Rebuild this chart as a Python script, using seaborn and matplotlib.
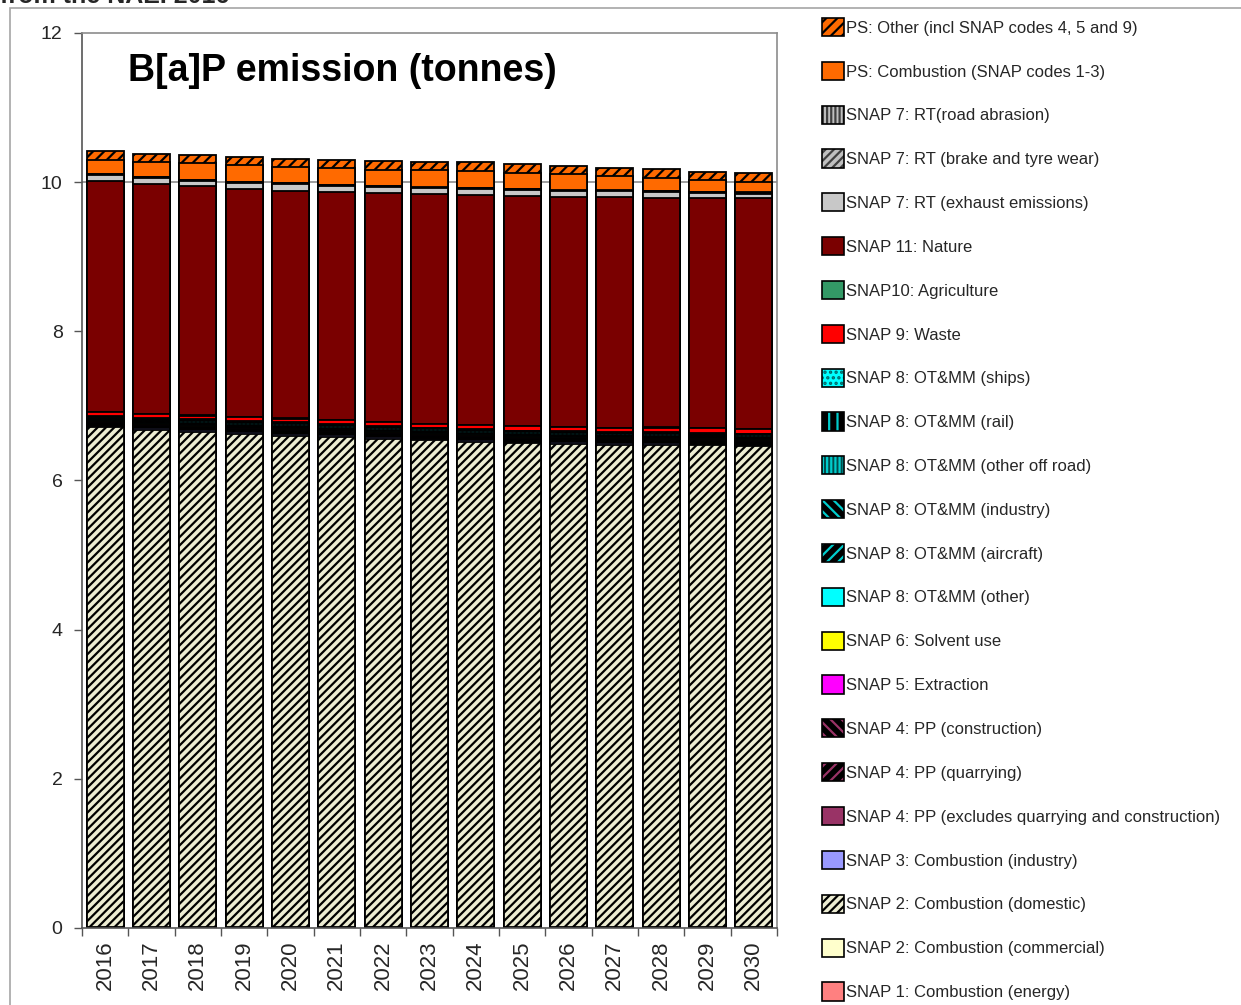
import numpy as np
import pandas as pd
import matplotlib
matplotlib.use("Agg")
import matplotlib.pyplot as plt
from matplotlib.patches import Patch, Rectangle
import seaborn as sns

# B[a]P emission projections (tonnes)
years = ["2016", "2017", "2018", "2019", "2020", "2021", "2022", "2023",
         "2024", "2025", "2026", "2027", "2028", "2029", "2030"]

energy      = [0.005, 0.005, 0.005, 0.005, 0.005, 0.005, 0.005, 0.005, 0.005, 0.005, 0.005, 0.005, 0.005, 0.005, 0.005]
commercial  = [0.01, 0.01, 0.01, 0.01, 0.01, 0.01, 0.01, 0.01, 0.01, 0.01, 0.01, 0.01, 0.01, 0.01, 0.01]
domestic    = [6.705, 6.665, 6.635, 6.605, 6.585, 6.565, 6.545, 6.525, 6.505, 6.485, 6.475, 6.465, 6.455, 6.455, 6.445]
industry    = [0.0125, 0.0175, 0.0225, 0.0275, 0.0275, 0.0275, 0.0225, 0.0225, 0.0225, 0.0225, 0.0225, 0.0225, 0.0275, 0.0225, 0.0225]
pp_other    = [0.0125, 0.0125, 0.0125, 0.0125, 0.0125, 0.0125, 0.0125, 0.0125, 0.0125, 0.0125, 0.0125, 0.0125, 0.0125, 0.0125, 0.0125]
pp_quarry   = [0.0125, 0.0125, 0.0125, 0.0125, 0.0125, 0.0125, 0.0125, 0.0125, 0.0125, 0.0125, 0.0125, 0.0125, 0.0125, 0.0125, 0.0125]
pp_constr   = [0.0125, 0.0125, 0.0125, 0.0125, 0.0125, 0.0125, 0.0125, 0.0125, 0.0125, 0.0125, 0.0125, 0.0125, 0.0125, 0.0125, 0.0125]
extraction  = [0.0125, 0.0125, 0.0125, 0.0125, 0.0125, 0.0125, 0.0125, 0.0125, 0.0125, 0.0125, 0.0125, 0.0125, 0.0125, 0.0125, 0.0125]
solvent     = [0.0125, 0.0125, 0.0125, 0.0125, 0.0125, 0.0125, 0.0125, 0.0125, 0.0125, 0.0125, 0.0125, 0.0125, 0.0125, 0.0125, 0.0125]
ot_other    = [0.0125, 0.0125, 0.0125, 0.0125, 0.0125, 0.0125, 0.0125, 0.0125, 0.0125, 0.0125, 0.0125, 0.0125, 0.0125, 0.0125, 0.0125]
ot_aircraft = [0.0125, 0.0125, 0.0125, 0.0125, 0.0125, 0.0125, 0.0125, 0.0125, 0.0125, 0.0125, 0.0125, 0.0125, 0.0125, 0.0125, 0.0125]
ot_industry = [0.0125, 0.0125, 0.0125, 0.0125, 0.0125, 0.0125, 0.0125, 0.0125, 0.0125, 0.0125, 0.0125, 0.0125, 0.0125, 0.0125, 0.0125]
ot_offroad  = [0.0125, 0.0175, 0.0225, 0.0275, 0.0275, 0.0275, 0.0225, 0.0225, 0.0225, 0.0225, 0.0225, 0.0225, 0.0275, 0.0225, 0.0225]
ot_rail     = [0.0125, 0.0125, 0.0125, 0.0125, 0.0125, 0.0125, 0.0125, 0.0125, 0.0125, 0.0125, 0.0125, 0.0125, 0.0125, 0.0125, 0.0125]
ot_ships    = [0.0125, 0.0125, 0.0125, 0.0125, 0.0125, 0.0125, 0.0125, 0.0125, 0.0125, 0.0125, 0.0125, 0.0125, 0.0125, 0.0125, 0.0125]
waste       = [0.05, 0.05, 0.05, 0.05, 0.05, 0.05, 0.05, 0.05, 0.05, 0.055, 0.055, 0.055, 0.06, 0.06, 0.06]
agriculture = [0.002, 0.002, 0.002, 0.002, 0.002, 0.002, 0.002, 0.002, 0.002, 0.002, 0.002, 0.002, 0.002, 0.002, 0.002]
nature      = [3.09, 3.09, 3.08, 3.06, 3.05, 3.06, 3.07, 3.08, 3.09, 3.085, 3.085, 3.095, 3.08, 3.09, 3.09]
rt_exhaust  = [0.085, 0.075, 0.065, 0.075, 0.095, 0.075, 0.085, 0.075, 0.075, 0.085, 0.075, 0.075, 0.075, 0.065, 0.065]
rt_brake    = [0.01, 0.01, 0.01, 0.01, 0.01, 0.01, 0.01, 0.01, 0.01, 0.01, 0.01, 0.01, 0.01, 0.01, 0.01]
rt_road     = [0.005, 0.005, 0.005, 0.005, 0.005, 0.005, 0.005, 0.005, 0.005, 0.005, 0.005, 0.005, 0.005, 0.005, 0.005]
ps_comb     = [0.18, 0.20, 0.22, 0.23, 0.21, 0.23, 0.21, 0.23, 0.23, 0.21, 0.22, 0.19, 0.17, 0.16, 0.14]
ps_other    = [0.13, 0.11, 0.11, 0.11, 0.11, 0.10, 0.12, 0.11, 0.12, 0.12, 0.10, 0.11, 0.12, 0.10, 0.12]

# stacking order, bottom -> top
series = [
    ("SNAP 1: Combustion (energy)", energy),
    ("SNAP 2: Combustion (commercial)", commercial),
    ("SNAP 2: Combustion (domestic)", domestic),
    ("SNAP 3: Combustion (industry)", industry),
    ("SNAP 4: PP (excludes quarrying and construction)", pp_other),
    ("SNAP 4: PP (quarrying)", pp_quarry),
    ("SNAP 4: PP (construction)", pp_constr),
    ("SNAP 5: Extraction", extraction),
    ("SNAP 6: Solvent use", solvent),
    ("SNAP 8: OT&MM (other)", ot_other),
    ("SNAP 8: OT&MM (aircraft)", ot_aircraft),
    ("SNAP 8: OT&MM (industry)", ot_industry),
    ("SNAP 8: OT&MM (other off road)", ot_offroad),
    ("SNAP 8: OT&MM (rail)", ot_rail),
    ("SNAP 8: OT&MM (ships)", ot_ships),
    ("SNAP 9: Waste", waste),
    ("SNAP10: Agriculture", agriculture),
    ("SNAP 11: Nature", nature),
    ("SNAP 7: RT (exhaust emissions)", rt_exhaust),
    ("SNAP 7: RT (brake and tyre wear)", rt_brake),
    ("SNAP 7: RT(road abrasion)", rt_road),
    ("PS: Combustion (SNAP codes 1-3)", ps_comb),
    ("PS: Other (incl SNAP codes 4, 5 and 9)", ps_other),
]

# face colour, hatch, hatch colour (same order)
styles = [
    ("#FF8080", None, None),
    ("#FFFFCC", None, None),
    ("#ECECD2", "////", "#000000"),
    ("#9999FF", None, None),
    ("#993366", None, None),
    ("#000000", "///", "#993366"),
    ("#000000", "\\\\\\", "#993366"),
    ("#FF00FF", None, None),
    ("#FFFF00", None, None),
    ("#00FFFF", None, None),
    ("#000000", "///", "#00CCCC"),
    ("#000000", "\\\\\\", "#00CCCC"),
    ("#004C4C", "||||", "#00CCCC"),
    ("#000000", "||", "#00CCCC"),
    ("#00FFFF", "...", "#006666"),
    ("#FF0000", None, None),
    ("#339966", None, None),
    ("#7A0000", None, None),
    ("#C8C8C8", None, None),
    ("#C0C0C0", "////", "#404040"),
    ("#C0C0C0", "||||", "#404040"),
    ("#FF6A00", None, None),
    ("#FF6A00", "///", "#000000"),
]

sns.set_theme(style="white")
plt.rcParams["font.family"] = ["Liberation Sans", "DejaVu Sans"]
plt.rcParams["hatch.linewidth"] = 1.6

fig = plt.figure(figsize=(12.41, 10.05), dpi=100)
ax = fig.add_axes([82 / 1241, 1 - 928 / 1005, 695 / 1241, 895 / 1005])

ax.axhline(10, color="#8c8c8c", lw=1.2, zorder=0)

edge_lw = 1.3
tops = np.cumsum(np.array([v for _, v in series]), axis=0)

# draw cumulative totals from the top down so lower segments cover the rest
for i in reversed(range(len(series))):
    face, hatch, hcol = styles[i]
    d = pd.DataFrame({"year": years, "top": tops[i]})
    if hatch is None:
        sns.barplot(data=d, x="year", y="top", color=face, saturation=1,
                    width=0.8, edgecolor="black", linewidth=edge_lw,
                    errorbar=None, ax=ax)
    else:
        sns.barplot(data=d, x="year", y="top", color=face, saturation=1,
                    width=0.8, hatch=hatch, edgecolor=hcol, linewidth=0,
                    errorbar=None, ax=ax)
        sns.barplot(data=d, x="year", y="top", color="black", fill=False,
                    width=0.8, linewidth=edge_lw, errorbar=None, ax=ax)

ax.set_xlim(-0.5, 14.5)
ax.set_ylim(0, 12)
ax.set_yticks([0, 2, 4, 6, 8, 10, 12])
ax.set_xlabel("")
ax.set_ylabel("")
ax.set_xticks(range(len(years)))
ax.set_xticklabels(years, rotation=90)
ax.set_xticks(np.arange(-0.5, 15, 1), minor=True)
ax.tick_params(axis="x", which="major", length=0, labelsize=16, pad=9)
ax.tick_params(axis="x", which="minor", length=6, width=1, color="#555555",
               direction="out", bottom=True)
ax.tick_params(axis="y", length=6, width=1, color="#555555", direction="out",
               left=True, labelsize=14, pad=8)
for s in ["left", "bottom"]:
    ax.spines[s].set_color("#555555")
    ax.spines[s].set_linewidth(1.2)
for s in ["top", "right"]:
    ax.spines[s].set_color("#8c8c8c")
    ax.spines[s].set_linewidth(1.2)

ax.text(0.066, 0.958, "B[a]P emission (tonnes)", transform=ax.transAxes,
        fontsize=27, fontweight="bold", va="center", ha="left", color="black")

# legend, top entry first
handles = []
labels = []
for i in reversed(range(len(series))):
    face, hatch, hcol = styles[i]
    if hatch is None:
        h = Patch(facecolor=face, edgecolor="black", lw=1.2)
    else:
        h = (Patch(facecolor=face, hatch=hatch, edgecolor=hcol, lw=0),
             Patch(facecolor="none", edgecolor="black", lw=1.2))
    handles.append(h)
    labels.append(series[i][0])

fig.legend(handles, labels, loc="upper left",
           bbox_to_anchor=(822 / 1241, 1 - 18 / 1005),
           frameon=False, fontsize=12, handlelength=1.3, handleheight=1.3,
           handletextpad=0.15, labelspacing=1.54, borderpad=0,
           borderaxespad=0, labelcolor="#262626")

# clipped heading and chart-area frame from the original document
fig.text(0.0, 1 - 3 / 1005, "from the NAEI 2016", fontsize=18,
         fontweight="bold", va="baseline", ha="left")
fig.add_artist(Rectangle((10 / 1241, -0.1), 1.2, 1.1 - 8 / 1005,
                         transform=fig.transFigure, fill=False,
                         edgecolor="#a6a6a6", lw=1.2))

fig.savefig("out.png", dpi=100)
